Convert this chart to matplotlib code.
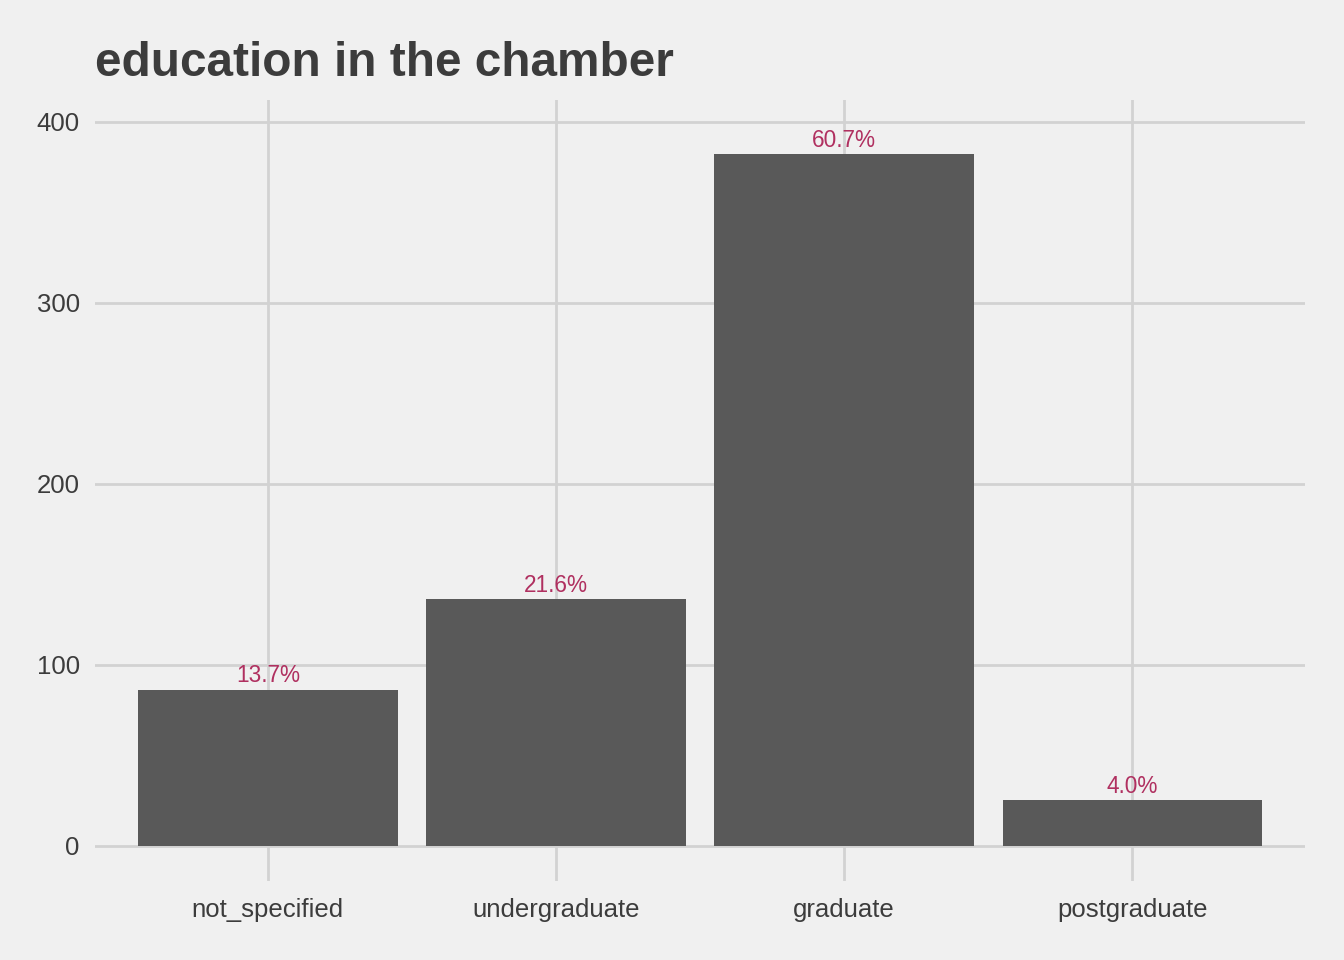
import matplotlib
matplotlib.use('Agg')
import matplotlib.pyplot as plt
import numpy as np

categories = ['not_specified', 'undergraduate', 'graduate', 'postgraduate']
counts = [86, 136, 382, 25]
pct_labels = ['13.7%', '21.6%', '60.7%', '4.0%']

plt.rcParams['font.family'] = ['Liberation Sans', 'DejaVu Sans']

bg = '#F0F0F0'
grid_col = '#D2D2D2'

fig = plt.figure(figsize=(13.44, 9.6), dpi=100, facecolor=bg)
ax = fig.add_axes([95/1344, 79/960, 1210/1344, 781/960])
ax.set_facecolor(bg)

x = np.arange(1, len(categories) + 1)
ax.bar(x, counts, width=0.9, color='#595959', zorder=2)

for xi, c, lab in zip(x, counts, pct_labels):
    ax.annotate(lab, (xi, c), xytext=(0, 2), textcoords='offset points',
                ha='center', va='bottom', color='#B03060', fontsize=16.3)

ax.set_xlim(0.4, 4.6)
ax.set_ylim(-19.6, 412)
ax.set_xticks(x)
ax.set_xticklabels(categories)
ax.set_yticks([0, 100, 200, 300, 400])

ax.grid(True, color=grid_col, linewidth=2, zorder=0)
ax.set_axisbelow(True)
for s in ax.spines.values():
    s.set_visible(False)
ax.tick_params(axis='both', length=0, labelsize=18.5, labelcolor='#3C3C3C')
ax.tick_params(axis='y', pad=11)
ax.tick_params(axis='x', pad=12.5)

fig.text(95/1344, 1 - 76/960, 'education in the chamber', fontsize=34.4,
         fontweight='bold', color='#3C3C3C', ha='left', va='baseline')

fig.savefig('out.png', dpi=100, facecolor=bg)
